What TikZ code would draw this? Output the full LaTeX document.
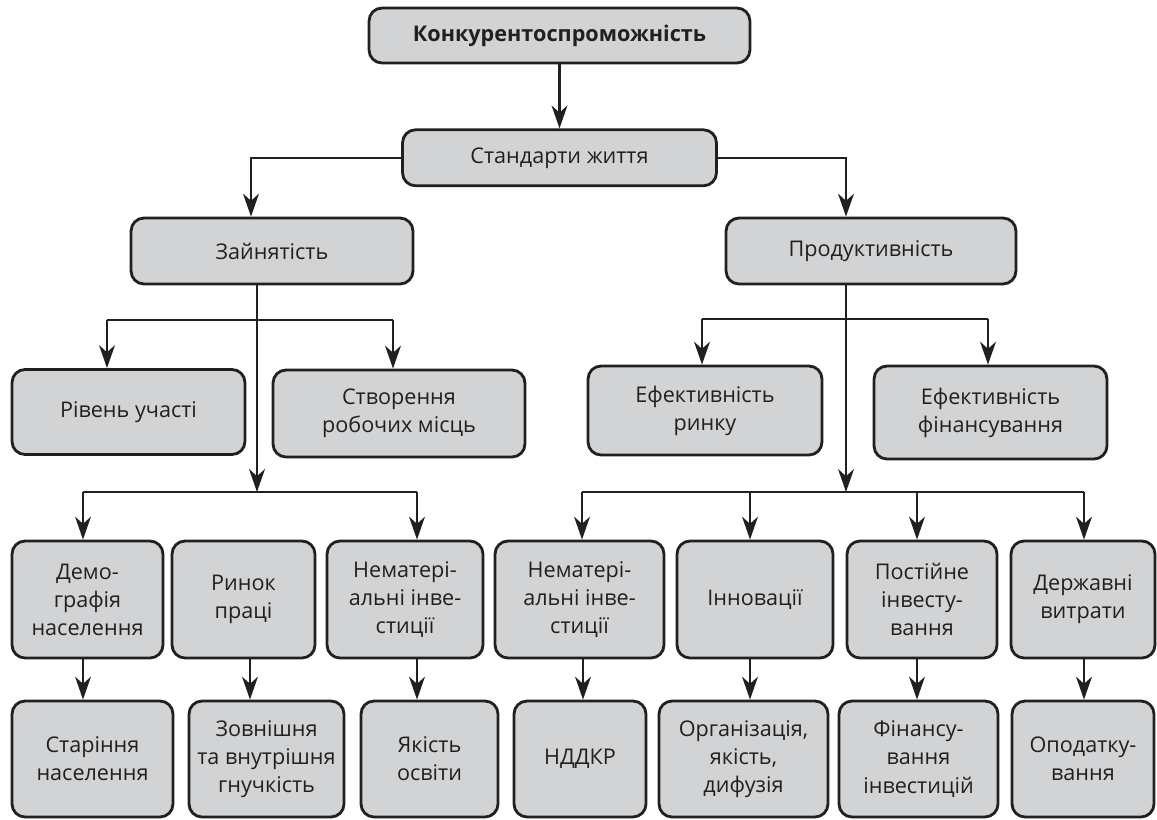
\documentclass[tikz,border=0pt]{standalone}
\usepackage{fontspec}
\setmainfont{Open Sans}
\usetikzlibrary{arrows.meta, positioning}
\definecolor{boxgray}{HTML}{D1D3D4}
\definecolor{ink}{HTML}{231F20}

\begin{document}
\begin{tikzpicture}[
  x=0.02cm, y=-0.02cm,
  block/.style={rectangle, draw=ink, fill=boxgray, text=ink, line width=1.6pt, rounded corners=0.26cm, align=center, inner sep=2pt, font=\fontsize{12.3}{16}\selectfont},
  cell/.style={block, minimum height=2.34cm},
  arrow/.style={draw=ink, line width=1.35pt, -{Stealth[length=13pt, width=9pt, inset=4pt]}},
  line/.style={draw=ink, line width=1.35pt}
]
  \useasboundingbox (0,0) rectangle (1157,819);

  \node [block, minimum width=7.62cm, minimum height=1.1cm, font=\fontsize{12.3}{16}\selectfont\bfseries] (top) at (559.5,35.5) {Конкурентоспроможність};
  \node [block, below=1.28cm of top, minimum width=6.28cm, minimum height=1.12cm] (std) {Стандарти життя};

  \node [block, minimum width=5.64cm, minimum height=1.32cm] (emp) at (272,251) {Зайнятість};
  \node [block, minimum width=5.8cm, minimum height=1.32cm] (prod) at (871,251) {Продуктивність};

  \node [block, minimum width=4.66cm, minimum height=1.7cm] (part) at (128.5,412) {Рівень участі};
  \node [block, minimum width=5.04cm, minimum height=1.74cm] (jobs) at (399,413.5) {Створення\\робочих місць};
  \node [block, minimum width=4.68cm, minimum height=1.78cm] (mkt) at (705,410.5) {Ефективність\\ринку};
  \node [block, minimum width=4.66cm, minimum height=1.86cm] (fin) at (990.5,412.5) {Ефективність\\фінансування};

  \node [cell, minimum width=3.02cm] (demo) at (87.5,599.5) {Демо-\\графія\\населення};
  \node [cell, minimum width=2.86cm] (labour) at (243.5,599.5) {Ринок\\праці};
  \node [cell, minimum width=3.12cm] (intanL) at (405,599.5) {Нематері-\\альні інве-\\стиції};
  \node [cell, minimum width=3.38cm] (intanR) at (579.5,599.5) {Нематері-\\альні інве-\\стиції};
  \node [cell, minimum width=3.12cm] (innov) at (755,599.5) {Інновації};
  \node [cell, minimum width=3cm] (invest) at (922,599.5) {Постійне\\інвесту-\\вання};
  \node [cell, minimum width=2.88cm] (gov) at (1083,599.5) {Державні\\витрати};

  \node [cell, minimum width=3.22cm, minimum height=2.32cm] (aging) at (92.5,759) {Старіння\\населення};
  \node [cell, minimum width=3.1cm, minimum height=2.32cm] (flex) at (266.5,759) {Зовнішня\\та внутрішня\\гнучкість};
  \node [cell, minimum width=2.74cm, minimum height=2.32cm] (edu) at (429.5,759) {Якість\\освіти};
  \node [cell, minimum width=2.64cm, minimum height=2.32cm] (rnd) at (580,759) {НДДКР};
  \node [cell, minimum width=3.38cm, minimum height=2.32cm] (org) at (743.5,759) {Організація,\\якість,\\дифузія};
  \node [cell, minimum width=3.18cm, minimum height=2.32cm] (finv) at (918.5,759) {Фінансу-\\вання\\інвестицій};
  \node [cell, minimum width=2.84cm, minimum height=2.32cm] (tax) at (1083,759) {Оподатку-\\вання};

  \draw [arrow] (top.south) -- (std.north);
  \draw [arrow] (std.west) -| (emp.north -| 251,0);
  \draw [arrow] (std.east) -| (prod.north -| 846,0);

  % employment branch
  \coordinate (eL) at (107,320);
  \coordinate (eR) at (393,320);
  \coordinate (eV) at (257,492);
  \coordinate (dL) at (83,492);
  \coordinate (dR) at (417,492);
  \draw [line] (eL) -- (eR);
  \draw [arrow] (eL) -- (part.north -| eL);
  \draw [arrow] (eR) -- (jobs.north -| eR);
  \draw [arrow] (emp.south -| eV) -- (eV);
  \draw [line] (dL) -- (dR);
  \draw [arrow] (dL) -- (demo.north -| dL);
  \draw [arrow] (dR) -- (intanL.north -| dR);

  % productivity branch
  \coordinate (pL) at (702,319);
  \coordinate (pR) at (988,319);
  \coordinate (pV) at (846,492);
  \coordinate (qL) at (582,492);
  \coordinate (qR) at (1084,492);
  \draw [line] (pL) -- (pR);
  \draw [arrow] (pL) -- (mkt.north -| pL);
  \draw [arrow] (pR) -- (fin.north -| pR);
  \draw [arrow] (prod.south -| pV) -- (pV);
  \draw [line] (qL) -- (qR);
  \foreach \n/\x in {intanR/582, innov/750, invest/917, gov/1084}
    \draw [arrow] (qL -| \x,0) -- (\n.north -| \x,0);

  \foreach \a/\b/\x in {demo/aging/83, labour/flex/250, intanL/edu/417, intanR/rnd/583, innov/org/750, invest/finv/917, gov/tax/1084}
    \draw [arrow] (\a.south -| \x,0) -- (\b.north -| \x,0);
\end{tikzpicture}
\end{document}
